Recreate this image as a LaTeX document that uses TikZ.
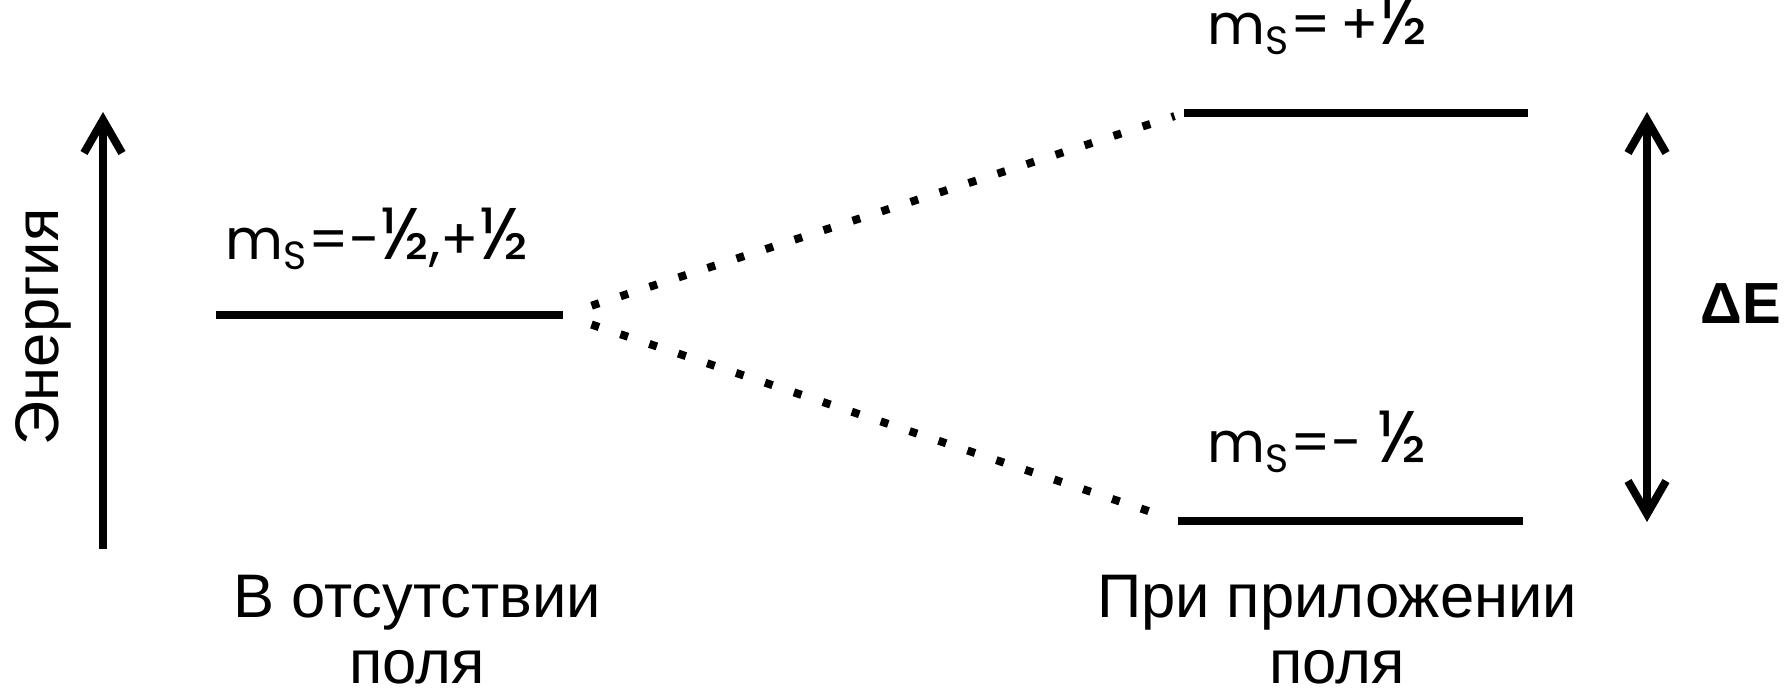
\documentclass[tikz,border=0pt]{standalone}
\usepackage{graphicx}
\usepackage{fontspec}
\setmainfont{Liberation Sans}
\newfontfamily\geofont{Poppins}
\usetikzlibrary{arrows.meta, positioning}

\newcommand{\halfval}{\scalebox{1.3}{½}}

\begin{document}
\begin{tikzpicture}[
      >={Straight Barb[length=3.3mm, width=3.8mm]},
      level/.style={line width=0.8mm},
      split/.style={line width=0.8mm, dash pattern=on 0.8mm off 2.25mm,
        shorten <=3mm, shorten >=1mm},
      axis/.style={line width=0.8mm},
      every node/.style={inner sep=0pt, font=\fontsize{17.5}{18.5}\selectfont},
      spin/.style={anchor=base west, font=\geofont\fontsize{16}{18}\selectfont}
    ]
      \useasboundingbox (0,0) rectangle (17.85,6.93);

      % energy levels
      \coordinate (free L) at (2.16,3.78);
      \coordinate (free R) at (5.63,3.78);
      \coordinate (up L) at (11.84,5.80);
      \coordinate (up R) at (15.28,5.80);
      \coordinate (down L) at (11.78,1.72);
      \coordinate (down R) at (15.23,1.72);
      \draw[level] (free L) -- (free R);
      \draw[level] (up L) -- (up R);
      \draw[level] (down L) -- (down R);

      % splitting in the field
      \draw[split] (free R) -- (up L);
      \draw[split] (free R) -- (down L);

      \node[spin] (free spin) at (2.25,4.33) {m\textsubscript{S}=-\halfval,+\halfval};
      \node[spin] (up spin) at (12.07,6.48) {m\textsubscript{S}=\,+\halfval};
      \node[spin] (down spin) at (12.07,2.30) {m\textsubscript{S}=- \halfval};

      % energy axis
      \coordinate (axis bottom) at (1.03,1.44);
      \coordinate (axis top) at (1.03,5.81);
      \draw[axis, ->] (axis bottom) -- (axis top);
      \node[rotate=90] (energy) at (0.43,3.66) {Энергия};

      % gap
      \coordinate (gap top) at (16.47,5.81);
      \coordinate (gap bottom) at (16.47,1.71);
      \draw[axis, <->] (gap bottom) -- (gap top);
      \node[font=\bfseries\fontsize{16.5}{18}\selectfont] (gap) at (17.41,3.89) {ΔE};

      \node[align=center, anchor=base] (no field) at (4.17,0.10) {В отсутствии\\поля};
      \node[align=center, anchor=base] (field) at (13.37,0.10) {При приложении\\поля};
    \end{tikzpicture}
\end{document}
